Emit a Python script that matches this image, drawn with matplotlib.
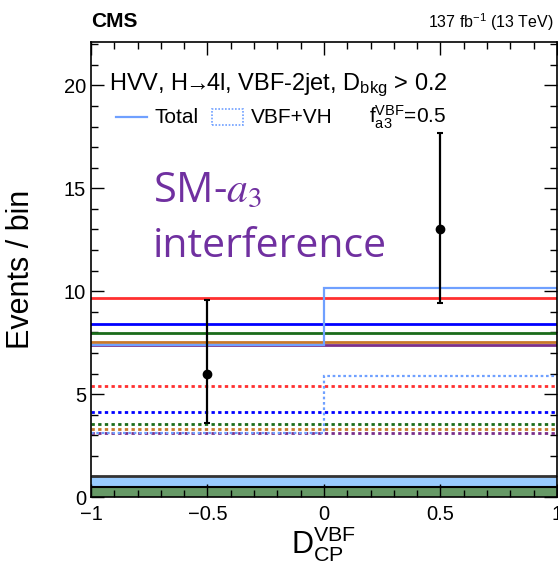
import matplotlib
matplotlib.use("Agg")
import matplotlib.pyplot as plt
from matplotlib.patches import Rectangle
from matplotlib.ticker import MultipleLocator
import numpy as np

plt.rcParams['font.family'] = ['Liberation Sans', 'DejaVu Sans']
plt.rcParams['mathtext.fontset'] = 'custom'
plt.rcParams['mathtext.rm'] = 'Liberation Sans'
plt.rcParams['mathtext.it'] = 'Liberation Sans:italic'

# ---- data ----
bin_edges = [-1.0, 0.0, 1.0]
total = [7.41, 10.18]
vbf_vh = [3.12, 5.89]
bkg_zx = [0.50, 0.50]
bkg_zz = [0.53, 0.53]
solid_levels = [9.66, 8.40, 7.96, 7.54, 7.41]
solid_colors = ['#ff3030', '#0000ff', '#1a6b1a', '#c8782a', '#7a2f8a']
dotted_levels = [5.39, 4.14, 3.54, 3.30, 3.12]
dotted_colors = ['#ff3030', '#0000ff', '#1a6b1a', '#c8782a', '#7a2f8a']
data_x = [-0.5, 0.5]
data_y = [6, 13]
data_lo = [3.62, 9.44]
data_hi = [9.58, 17.67]

fig = plt.figure(figsize=(5.58, 5.70), dpi=100)
ax = fig.add_axes([0.163, 0.128, 0.835, 0.798])
ax.set_xlim(-1, 1)
ax.set_ylim(0, 22.1)

# background stack
edges = np.array(bin_edges)
zx = np.array(bkg_zx)
zz = np.array(bkg_zz)
for i in range(2):
    ax.add_patch(Rectangle((edges[i], 0), edges[i+1]-edges[i], zx[i],
                           facecolor='#669966', edgecolor='none', zorder=1))
    ax.add_patch(Rectangle((edges[i], zx[i]), edges[i+1]-edges[i], zz[i],
                           facecolor='#99ccff', edgecolor='none', zorder=1))
ax.stairs(zx, edges, color='black', lw=1.5, zorder=2, baseline=None)
ax.stairs(zx + zz, edges, color='#333333', lw=2.0, zorder=2, baseline=None)

# horizontal hypotheses lines
for lv, c in zip(solid_levels, solid_colors):
    ax.axhline(lv, color=c, lw=2, zorder=3)
for lv, c in zip(dotted_levels, dotted_colors):
    ax.axhline(lv, color=c, lw=2, ls=(0, (1.2, 1.2)), zorder=3)

# total and VBF+VH
ax.stairs(total, edges, color='#6fa0ff', lw=1.6, zorder=4, baseline=None)
ax.stairs(vbf_vh, edges, color='#6fa0ff', lw=1.6, ls=(0, (1.2, 1.2)), zorder=4, baseline=None)

# data
dy = np.array(data_y, dtype=float)
yerr = [dy - np.array(data_lo), np.array(data_hi) - dy]
ax.errorbar(data_x, dy, yerr=yerr, fmt='o', color='black', ms=6, lw=1.6,
            capsize=2, capthick=1.5, zorder=6)

# axes styling
ax.xaxis.set_major_locator(MultipleLocator(0.5))
ax.xaxis.set_minor_locator(MultipleLocator(0.1))
ax.yaxis.set_major_locator(MultipleLocator(5))
ax.yaxis.set_minor_locator(MultipleLocator(1))
ax.tick_params(which='both', direction='in', top=True, right=True, labelsize=14.5, width=1)
ax.tick_params(which='major', length=9.5)
ax.tick_params(which='minor', length=5)
ax.tick_params(axis='x', pad=6)
ax.set_xticks([-1, -0.5, 0, 0.5, 1])
ax.set_xticklabels(['\u22121', '\u22120.5', '0', '0.5', '1'])
for s in ax.spines.values():
    s.set_linewidth(1.2)
    s.set_zorder(10)

ax.set_ylabel('Events / bin', fontsize=22)
ax.yaxis.set_label_coords(-0.118, 0.5)
ax.set_xlabel(r'D$_{\rm CP}^{\rm VBF}$', fontsize=22, labelpad=0)

# header texts
fig.text(0.163, 0.962, 'CMS', fontsize=15, fontweight='bold', ha='left', va='center')
fig.text(0.992, 0.962, r'137 fb$^{-1}$ (13 TeV)', fontsize=11.5, ha='right', va='center')

ax.text(0.038, 0.905, r'HVV, H$\!\!\rightarrow\!\!$4l, VBF-2jet, D$_{\rm bkg}$ > 0.2',
        transform=ax.transAxes, fontsize=17, ha='left', va='center')

# legend row
yl = 0.835
ax.plot([0.053, 0.12], [yl, yl], transform=ax.transAxes, color='#6fa0ff', lw=1.6)
ax.text(0.137, yl, 'Total', transform=ax.transAxes, fontsize=15, ha='left', va='center')
ax.add_patch(Rectangle((0.259, yl - 0.017), 0.068, 0.034, transform=ax.transAxes,
                       facecolor='none', edgecolor='#6fa0ff', lw=1.2, ls=(0, (1, 1))))
ax.text(0.343, yl, 'VBF+VH', transform=ax.transAxes, fontsize=15, ha='left', va='center')
ax.text(0.597, yl, r'f$_{\rm a3}^{\rm VBF}$=0.5', transform=ax.transAxes, fontsize=15,
        ha='left', va='center')

# annotation
ax.text(0.133, 0.672, r'SM-$a_3$', transform=ax.transAxes, fontsize=30,
        color='#7030a0', ha='left', va='center', family='Open Sans', math_fontfamily='stix')
ax.text(0.133, 0.55, 'interference', transform=ax.transAxes, fontsize=29.5,
        color='#7030a0', ha='left', va='center', family='Open Sans')

fig.savefig('out.png', dpi=100)
